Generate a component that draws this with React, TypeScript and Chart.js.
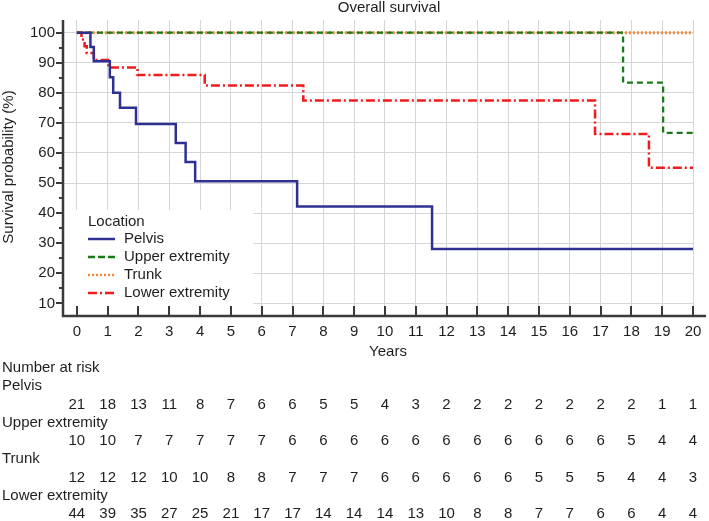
import React, { useEffect, useRef } from "react";
import { Chart, registerables } from "chart.js";

Chart.register(...registerables);

const FONT = "'Liberation Sans', Arial, Helvetica, sans-serif";
const TEXT = "#1e1e1e";

const chartTitle = "Overall survival";
const xTitle = "Years";
const yTitle = "Survival probability (%)";
const legendTitle = "Location";

const seriesNames = ["Pelvis", "Upper extremity", "Trunk", "Lower extremity"];
const seriesColors = ["#2e3192", "#1a7a1a", "#f2873a", "#ee1c1c"];

const pelvisX = [0, 0.44, 0.55, 1.07, 1.18, 1.4, 1.92, 3.21, 3.53, 3.84, 7.15, 11.53, 20];
const pelvisY = [100, 95.2, 90.5, 85.2, 80, 75, 69.6, 63.3, 57, 50.6, 42.2, 28.1, 28.1];
const upperX = [0, 17.73, 19.03, 20];
const upperY = [100, 83.4, 66.7, 66.7];
const trunkX = [0, 20];
const trunkY = [100, 100];
const lowerX = [0, 0.15, 0.25, 0.32, 0.55, 1.02, 1.97, 4.15, 7.35, 16.82, 18.57, 20];
const lowerY = [100, 97.7, 95.5, 93.2, 90.9, 88.4, 85.9, 82.4, 77.4, 66.3, 55.1, 55.1];

const yearTicks = [0, 1, 2, 3, 4, 5, 6, 7, 8, 9, 10, 11, 12, 13, 14, 15, 16, 17, 18, 19, 20];
const yTicks = [10, 20, 30, 40, 50, 60, 70, 80, 90, 100];
const yMinorTicks = [15, 25, 35, 45, 55, 65, 75, 85, 95];

const riskTitle = "Number at risk";
const riskPelvis = [21, 18, 13, 11, 8, 7, 6, 6, 5, 5, 4, 3, 2, 2, 2, 2, 2, 2, 2, 1, 1];
const riskUpper = [10, 10, 7, 7, 7, 7, 7, 6, 6, 6, 6, 6, 6, 6, 6, 6, 6, 6, 5, 4, 4];
const riskTrunk = [12, 12, 12, 10, 10, 8, 8, 7, 7, 7, 6, 6, 6, 6, 6, 5, 5, 5, 4, 4, 3];
const riskLower = [44, 39, 35, 27, 25, 21, 17, 17, 14, 14, 14, 13, 10, 8, 8, 7, 7, 6, 6, 4, 4];

const riskRows = [riskPelvis, riskUpper, riskTrunk, riskLower];

const dashes: number[][] = [[], [6, 4], [2, 2], [9, 3, 2, 3]];
const widths = [2.5, 2.3, 3, 2.5];

function pts(xs: number[], ys: number[]) {
  return xs.map((x, i) => ({ x, y: ys[i] }));
}

const overlayPlugin = {
  id: "overlay",
  afterDatasetsDraw(chart: any) {
    const ctx = chart.ctx;
    const ca = chart.chartArea;
    const xs = chart.scales.x;
    const ys = chart.scales.y;
    ctx.save();

    // legend box
    ctx.fillStyle = "#ffffff";
    ctx.fillRect(ca.left + 1, ca.top + 190, 189, ca.bottom - ca.top - 190);
    ctx.font = `15px ${FONT}`;
    ctx.fillStyle = TEXT;
    ctx.textBaseline = "middle";
    ctx.textAlign = "left";
    const lx = ca.left + 25;
    ctx.fillText(legendTitle, lx, ca.top + 202);
    seriesNames.forEach((name, i) => {
      const yy = ca.top + 219 + i * 18;
      ctx.beginPath();
      ctx.strokeStyle = seriesColors[i];
      ctx.lineWidth = 2.5;
      ctx.setLineDash(i === 1 ? [7, 3] : dashes[i]);
      ctx.moveTo(lx, yy);
      ctx.lineTo(lx + 27, yy);
      ctx.stroke();
      ctx.setLineDash([]);
      ctx.fillStyle = TEXT;
      ctx.fillText(name, lx + 36, yy);
    });

    // axes
    ctx.strokeStyle = "#3a3a3a";
    ctx.lineWidth = 2.5;
    ctx.beginPath();
    ctx.moveTo(ca.left, ca.top);
    ctx.lineTo(ca.left, ca.bottom);
    ctx.lineTo(chart.width - 3, ca.bottom);
    ctx.stroke();

    ctx.lineWidth = 2;
    ctx.beginPath();
    yTicks.forEach((v) => {
      const py = Math.round(ys.getPixelForValue(v));
      ctx.moveTo(ca.left - 7, py);
      ctx.lineTo(ca.left, py);
    });
    yMinorTicks.forEach((v) => {
      const py = Math.round(ys.getPixelForValue(v));
      ctx.moveTo(ca.left - 4, py);
      ctx.lineTo(ca.left, py);
    });
    yearTicks.forEach((v) => {
      const px = Math.round(xs.getPixelForValue(v));
      ctx.moveTo(px, ca.bottom);
      ctx.lineTo(px, ca.bottom - 10);
    });
    ctx.stroke();

    // titles
    ctx.fillStyle = TEXT;
    ctx.font = `15px ${FONT}`;
    ctx.textAlign = "center";
    ctx.textBaseline = "middle";
    ctx.fillText(chartTitle, 389, 8);
    ctx.fillText(xTitle, 388, ca.bottom + 36);
    ctx.save();
    ctx.translate(9, 167);
    ctx.rotate(-Math.PI / 2);
    ctx.fillText(yTitle, 0, 0);
    ctx.restore();

    // risk table
    ctx.textAlign = "left";
    ctx.fillText(riskTitle, 2, 368);
    riskRows.forEach((row, r) => {
      const labelY = 386 + r * 36.5;
      ctx.textAlign = "left";
      ctx.fillText(seriesNames[r], 2, labelY);
      ctx.textAlign = "center";
      row.forEach((n, i) => {
        ctx.fillText(String(n), xs.getPixelForValue(yearTicks[i]), labelY + 18.5);
      });
    });
    ctx.restore();
  },
};

export default function App() {
  const ref = useRef<HTMLCanvasElement | null>(null);
  useEffect(() => {
    if (!ref.current) return;
    const xsArr = [pelvisX, upperX, trunkX, lowerX];
    const ysArr = [pelvisY, upperY, trunkY, lowerY];
    // Chart.js paints the last dataset first: trunk at the bottom, green dashes above it
    const order = [0, 3, 1, 2];
    const chart = new Chart(ref.current, {
      type: "line",
      data: {
        datasets: order.map((i) => ({
          label: seriesNames[i],
          data: pts(xsArr[i], ysArr[i]),
          borderColor: seriesColors[i],
          borderWidth: widths[i],
          borderDash: dashes[i],
          stepped: "before" as const,
          pointRadius: 0,
          fill: false,
        })),
      },
      options: {
        animation: false,
        responsive: true,
        maintainAspectRatio: false,
        layout: { padding: { top: 20, right: 16, left: 0, bottom: 0 } },
        plugins: {
          legend: { display: false },
          title: { display: false },
          tooltip: { enabled: false },
        },
        scales: {
          x: {
            type: "linear",
            min: -0.45,
            max: 20,
            afterBuildTicks: (s: any) => {
              s.ticks = yearTicks.map((v) => ({ value: v }));
            },
            afterFit: (s: any) => {
              s.height = 205;
            },
            grid: { color: "#d6d6d6", lineWidth: 1, drawTicks: false },
            border: { display: false },
            ticks: {
              autoSkip: false,
              maxRotation: 0,
              padding: 7,
              color: TEXT,
              font: { family: FONT, size: 15 },
            },
          },
          y: {
            type: "linear",
            min: 5.8,
            max: 104.2,
            afterBuildTicks: (s: any) => {
              s.ticks = yTicks.map((v) => ({ value: v }));
            },
            afterFit: (s: any) => {
              s.width = 63;
            },
            grid: { color: "#d6d6d6", lineWidth: 1, drawTicks: false },
            border: { display: false },
            ticks: {
              padding: 8,
              color: TEXT,
              font: { family: FONT, size: 15 },
            },
          },
        },
      },
      plugins: [overlayPlugin],
    });
    return () => chart.destroy();
  }, []);
  return (
    <div style={{ position: "fixed", left: 0, top: 0, width: 709, height: 521, background: "#fff" }}>
      <canvas ref={ref} />
    </div>
  );
}
